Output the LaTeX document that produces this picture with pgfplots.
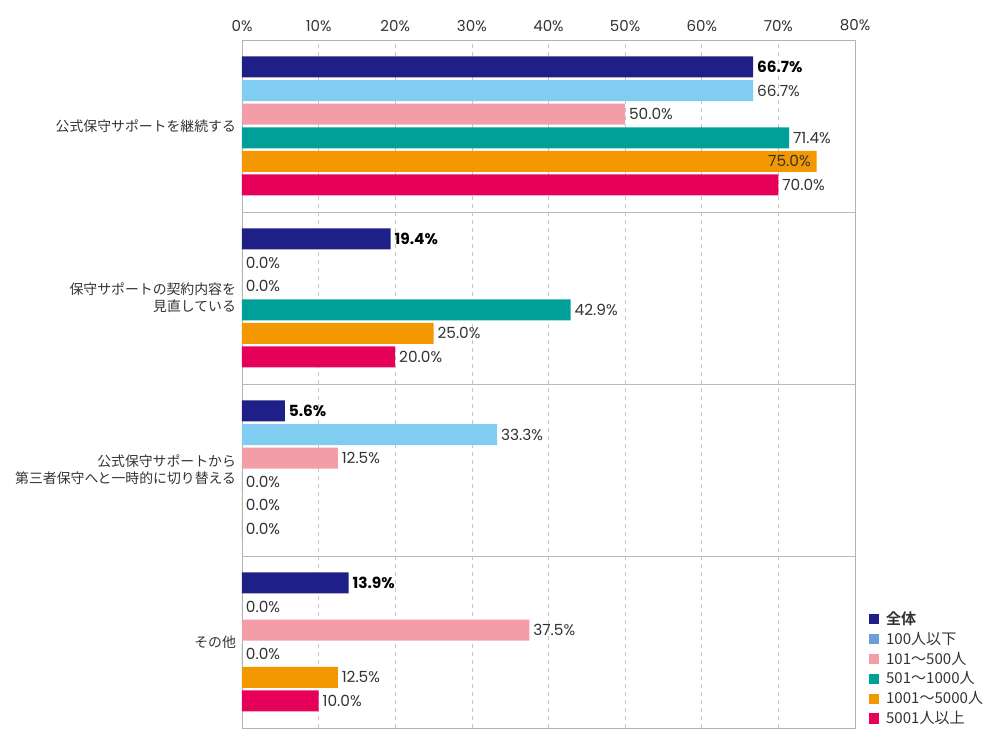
\documentclass[border=0pt]{standalone}
\usepackage{fontspec}
\setmainfont{Noto Sans CJK JP}[BoldFont={Noto Sans CJK JP Bold}]
\newfontfamily\poppins{Poppins}
\usepackage{pgfplots}
\pgfplotsset{compat=1.18}
\definecolor{c1}{HTML}{1E2087}
\definecolor{c2}{HTML}{80CDF1}
\definecolor{c2l}{HTML}{6E9ED8}
\definecolor{c3}{HTML}{F29DA7}
\definecolor{c4}{HTML}{00A098}
\definecolor{c5}{HTML}{F39800}
\definecolor{c6}{HTML}{E6005A}
\definecolor{txt}{HTML}{333333}
\begin{document}
\begin{tikzpicture}
\useasboundingbox (-181.5pt,-16.5pt) rectangle (568.5pt,546pt);
\begin{axis}[
  at={(0,0)}, anchor=south west,
  scale only axis, width=459.75pt, height=516pt,
  xbar, bar width=15.75pt,
  xmin=0, xmax=80, ymin=-0.5, ymax=3.5,
  xtick={0,10,...,80},
  xticklabels={0\%,10\%,20\%,30\%,40\%,50\%,60\%,70\%,80\%},
  xticklabel pos=upper,
  xticklabel style={font=\poppins\fontsize{11.3}{13}\selectfont, text=txt, yshift=3pt},
  ytick={0,1,2,3},
  yticklabels={その他,{公式保守サポートから\\第三者保守へと一時的に切り替える},{保守サポートの契約内容を\\見直している},公式保守サポートを継続する},
  yticklabel style={align=right, font=\fontsize{10.4}{12.9}\selectfont, text=txt, xshift=-1pt},
  major tick length=0pt,
  xmajorgrids, major grid style={dashed, gray!45},
  extra y ticks={0.5,1.5,2.5}, extra y tick labels={},
  extra y tick style={grid=major, major grid style={solid, gray!55}},
  axis line style={gray!60},
  point meta=x,
  nodes near coords={\pgfmathprintnumber[fixed,fixed zerofill,precision=1,assume math mode=true]{\pgfplotspointmeta}\%},
  nodes near coords style={font=\poppins\fontsize{11.5}{13}\selectfont, text=txt, inner sep=2.8pt},
  legend style={at={(rel axis cs:1,0)}, anchor=south west, xshift=10pt, draw=none, fill=none,
    inner sep=0pt, font=\fontsize{11.3}{12}\selectfont, text=txt, row sep=1.2pt,
    nodes={inner sep=1.5pt},
    /tikz/every odd column/.append style={column sep=4pt}},
  legend cell align=left,
  legend image code/.code={\fill[#1] (0pt,-3.8pt) rectangle (7.6pt,3.8pt);},
]
\addplot[fill=c1, draw=none, bar shift=44.25pt, nodes near coords style={font=\poppins\fontsize{11.5}{13}\selectfont\bfseries, text=black}]
  coordinates {(66.7,3) (19.4,2) (5.6,1) (13.9,0)};
\addlegendentry{\textbf{全体}}
\addplot[fill=c2, draw=none, bar shift=26.55pt, legend image post style={fill=c2l}]
  coordinates {(66.7,3) (0,2) (33.3,1) (0,0)};
\addlegendentry{100人以下}
\addplot[fill=c3, draw=none, bar shift=8.85pt]
  coordinates {(50.0,3) (0,2) (12.5,1) (37.5,0)};
\addlegendentry{101～500人}
\addplot[fill=c4, draw=none, bar shift=-8.85pt]
  coordinates {(71.4,3) (42.9,2) (0,1) (0,0)};
\addlegendentry{501～1000人}
\addplot[fill=c5, draw=none, bar shift=-26.55pt,
  coordinate style/.condition={\coordindex==0}{anchor=east, xshift=-1.5pt}]
  coordinates {(75.0,3) (25.0,2) (0,1) (12.5,0)};
\addlegendentry{1001～5000人}
\addplot[fill=c6, draw=none, bar shift=-44.25pt]
  coordinates {(70.0,3) (20.0,2) (0,1) (10.0,0)};
\addlegendentry{5001人以上}
\end{axis}
\end{tikzpicture}
\end{document}
